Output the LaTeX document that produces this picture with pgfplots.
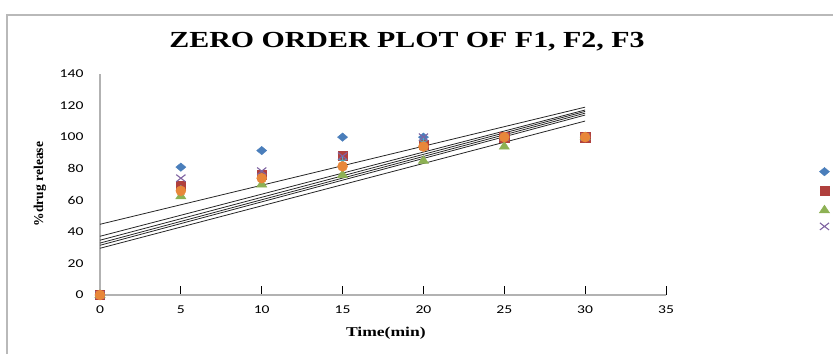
\documentclass[border=0pt]{standalone}
\usepackage{pgfplots}
\pgfplotsset{compat=1.18}
\usepackage{fontspec}
\setmainfont{Liberation Serif}
\newfontfamily\tickfont[FakeStretch=1.3]{Carlito}
\newfontfamily\widefont[FakeStretch=1.3]{Liberation Serif}
\definecolor{cblue}{HTML}{4A7EBB}
\definecolor{cred}{HTML}{B0403D}
\definecolor{cgreen}{HTML}{8DB154}
\definecolor{cpurple}{HTML}{8064A2}
\definecolor{ccyan}{HTML}{4BACC6}
\definecolor{corange}{HTML}{E8873A}
\begin{document}
\begin{tikzpicture}[x=1pt,y=1pt]
\path[use as bounding box] (0,0) rectangle (833,354);
\draw[gray!55, line width=1.2pt] (7,0) -- (7,339) -- (833,339);
\node[font=\widefont\bfseries\fontsize{23}{23}\selectfont] at (407,312) {ZERO ORDER PLOT OF F1, F2, F3};
\begin{axis}[
  at={(100pt,59pt)}, anchor=south west, scale only axis,
  width=566pt, height=221pt,
  xmin=0, xmax=35, ymin=0, ymax=140,
  clip=false,
  axis lines=left,
  axis line style={-, gray!60, line width=1.3pt},
  xtick={5,10,...,35},
  extra x ticks={0},
  extra x tick style={major tick length=0pt},
  ytick={0,20,...,140},
  ytick style={draw=none},
  xtick style={black, line width=1pt},
  tick align=inside,
  major tick length=9pt,
  /pgf/number format/assume math mode=true,
  tick label style={font=\tickfont\fontsize{12}{12}\selectfont},
  xticklabel style={yshift=-7pt},
  yticklabel style={xshift=-13pt},
  xlabel={Time(min)},
  ylabel={\%drug release},
  xlabel style={font=\widefont\bfseries\fontsize{13.5}{13.5}\selectfont, at={(axis description cs:0.505,-0.172)}, anchor=center},
  ylabel style={font=\bfseries\fontsize{13.5}{13.5}\selectfont, at={(axis description cs:-0.106,0.502)}, anchor=center, rotate=0},
  legend style={draw=none, fill=none, at={(axis cs:44.83,61.0)}, anchor=center, inner sep=0pt, row sep=10pt, nodes={inner sep=0pt}},
  legend image code/.code={\draw[#1] plot coordinates {(0pt,0pt)};},
  legend cell align=left,
]
\addplot[only marks, mark=diamond*, mark size=4.2, mark options={xscale=1.6, fill=cblue, draw=cblue}] coordinates {(0,0)(5,81)(10,91.5)(15,100)(20,100)(25,100)(30,100)};
\addlegendentry{}
\addplot[only marks, mark=square*, mark size=4.6, mark options={fill=cred, draw=cred}] coordinates {(0,0)(5,69)(10,76)(15,88)(20,95)(25,100)(30,100)};
\addlegendentry{}
\addplot[only marks, mark=triangle*, mark size=5.2, mark options={xscale=1.15, fill=cgreen, draw=cgreen}] coordinates {(0,0)(5,62.5)(10,70)(15,76)(20,85)(25,94)(30,100)};
\addlegendentry{}
\addplot[only marks, mark=x, mark size=5, mark options={xscale=1.3, draw=cpurple, line width=1.1pt}] coordinates {(0,0)(5,74)(10,78.5)(15,88)(20,100)(25,100)(30,100)};
\addlegendentry{}
\addplot[forget plot, only marks, mark=star, mark size=4, mark options={draw=ccyan, line width=1pt}] coordinates {(0,0)(5,67)(10,75)(15,85)(20,97)(25,100)(30,100)};
\addplot[forget plot, only marks, mark=*, mark size=5, mark options={fill=corange, draw=corange}] coordinates {(0,0)(5,66)(10,74)(15,81.5)(20,94)(25,100)(30,100)};
\addplot[forget plot, black!85, line width=0.8pt] coordinates {(0,44.8)(30,119)};
\addplot[forget plot, black!85, line width=0.8pt] coordinates {(0,37.2)(30,117.2)};
\addplot[forget plot, black!85, line width=0.8pt] coordinates {(0,34.7)(30,116.3)};
\addplot[forget plot, black!85, line width=0.8pt] coordinates {(0,32.9)(30,115.2)};
\addplot[forget plot, black!85, line width=0.8pt] coordinates {(0,31.5)(30,114)};
\addplot[forget plot, black!85, line width=0.8pt] coordinates {(0,29.6)(30,110.2)};
\end{axis}
\end{tikzpicture}
\end{document}
